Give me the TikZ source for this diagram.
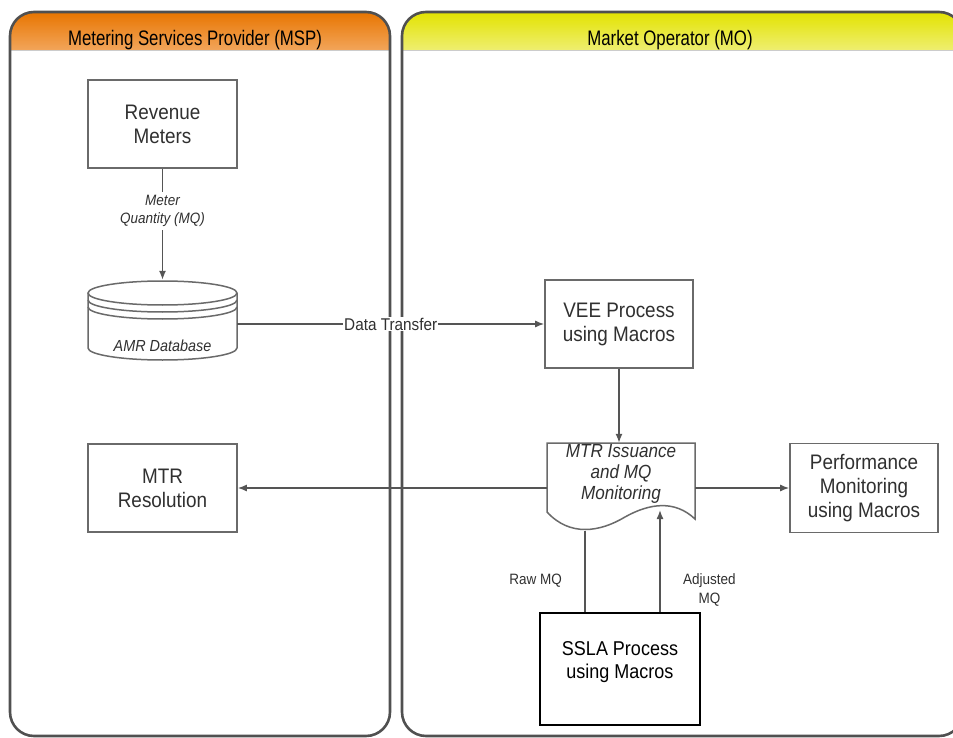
\documentclass[tikz,border=0pt]{standalone}
\usepackage{fontspec}
\setmainfont{Liberation Sans}
\newfontfamily\hdrfont{Liberation Sans}[FakeStretch=0.8]
\newfontfamily\boxfont{Liberation Sans}[FakeStretch=0.9]
\usetikzlibrary{arrows.meta}
\definecolor{laneline}{HTML}{505050}
\definecolor{orgtop}{HTML}{E87500}
\definecolor{orgbot}{HTML}{F2A55A}
\definecolor{yeltop}{HTML}{E3E300}
\definecolor{yelbot}{HTML}{EEEE70}
\definecolor{boxline}{HTML}{6A6A6A}
\definecolor{txt}{HTML}{303030}
\definecolor{conn}{HTML}{555555}
\begin{document}
\begin{tikzpicture}[x=1pt,y=-1pt,
  lane/.style={draw=laneline, line width=2.6pt, rounded corners=24pt},
  hdr/.style={font=\hdrfont\fontsize{21}{24}\selectfont, text=black},
  procbox/.style={draw=boxline, line width=1.6pt, fill=white, align=center,
    minimum width=149pt, minimum height=88pt, inner sep=0pt,
    font=\boxfont\fontsize{21}{24}\selectfont, text=txt},
  ghost/.style={inner sep=0pt},
  ital/.style={font=\boxfont\itshape\fontsize{15}{18}\selectfont, text=txt, align=center, inner sep=1pt},
  lbl/.style={font=\boxfont\fontsize{15}{19}\selectfont, text=txt, align=center, inner sep=1pt},
  arr/.style={draw=conn, line width=1.4pt, -{Latex[length=9pt,width=7pt]}},
  plain/.style={draw=conn, line width=1.4pt}
]
\useasboundingbox (0,0) rectangle (953,738);

% ---- lanes ----
\begin{scope}
  \clip[rounded corners=24pt] (10,12) rectangle (390,736);
  \fill[top color=orgtop, bottom color=orgbot] (10,12) rectangle (390,50);
  \draw[line width=0.8pt, black!20] (10,50.5) -- (390,50.5);
\end{scope}
\begin{scope}
  \clip[rounded corners=24pt] (402,12) rectangle (963,736);
  \fill[top color=yeltop, bottom color=yelbot] (402,12) rectangle (963,50);
  \draw[line width=0.8pt, black!20] (402,50.5) -- (963,50.5);
\end{scope}
\draw[lane] (10,12) rectangle (390,736);
\draw[lane] (402,12) rectangle (963,736);
\node[hdr] (msp) at (195,40) {Metering Services Provider (MSP)};
\node[hdr] (mo) at (670,40) {Market Operator (MO)};

% ---- nodes ----
\node[procbox] (rev) at (162.5,124) {Revenue\\Meters};
\node[procbox, minimum width=148pt] (vee) at (619,324) {VEE Process\\using Macros};
\node[procbox] (res) at (162.5,488) {MTR\\Resolution};
\node[procbox, minimum width=148pt, minimum height=89pt] (perf) at (864,488) {Performance\\Monitoring\\using Macros};
\node[procbox, draw=black, line width=2pt, minimum width=160pt, minimum height=112pt] (ssla) at (620,669) {};
\node[procbox, draw=none, fill=none, minimum width=0pt, minimum height=0pt, text=black, font=\boxfont\fontsize{20}{23}\selectfont] (sslat) at ([yshift=7pt]ssla.center) {SSLA Process\\using Macros};

% database cylinder
\node[ghost, minimum width=149pt, minimum height=80pt] (db) at (162.5,320) {};
\fill[white] (88,293) -- (88,348) arc[start angle=180, end angle=360, x radius=74.5pt, y radius=12pt] -- (237,293) -- cycle;
\draw[draw=boxline, line width=1.5pt] (88,293) -- (88,348) arc[start angle=180, end angle=360, x radius=74.5pt, y radius=12pt] -- (237,293);
\draw[draw=boxline, line width=1.5pt, fill=white] (162.5,293) ellipse[x radius=74.5pt, y radius=12pt];
\draw[draw=boxline, line width=1.5pt] (88,300) arc[start angle=180, end angle=360, x radius=74.5pt, y radius=12pt];
\draw[draw=boxline, line width=1.5pt] (88,307) arc[start angle=180, end angle=360, x radius=74.5pt, y radius=12pt];
\node[ital, font=\boxfont\itshape\fontsize{16}{18}\selectfont] (dbt) at (162.5,346) {AMR Database};

% document shape
\node[ghost, minimum width=148pt, minimum height=90pt] (mtr) at (621,488) {};
\draw[draw=boxline, line width=1.5pt, fill=white]
  (547,443) -- (695,443) -- (695,519)
  .. controls (675,500) and (650,503) .. (625,517)
  .. controls (600,532) and (570,537) .. (547,512) -- cycle;
\node[ital, font=\boxfont\itshape\fontsize{19}{21}\selectfont] (mtrt) at (621,474) {MTR Issuance\\and MQ\\Monitoring};

% ---- connectors ----
\draw[arr] (rev.south) -- node[ital, fill=white, pos=0.38, inner ysep=3pt] {Meter\\Quantity (MQ)} (db.north);
\draw[arr] (db.east |- vee.west) -- node[lbl, fill=white, pos=0.5, font=\boxfont\fontsize{17}{19}\selectfont] {Data Transfer} (vee.west);
\draw[arr] (vee.south) -- (vee.south |- mtr.north);
\draw[arr] (mtr.west) -- (res.east);
\draw[arr] (mtr.east) -- (perf.west);
\coordinate (rawtop) at (585,531);
\coordinate (adjtop) at (660,510);
\draw[plain] (rawtop) -- (rawtop |- ssla.north);
\draw[arr] (ssla.north -| adjtop) -- (adjtop);
\node[lbl, anchor=east] (rawl) at (563,581) {Raw MQ};
\node[lbl, anchor=west] (adjl) at (682,590) {Adjusted\\MQ};
\end{tikzpicture}
\end{document}
